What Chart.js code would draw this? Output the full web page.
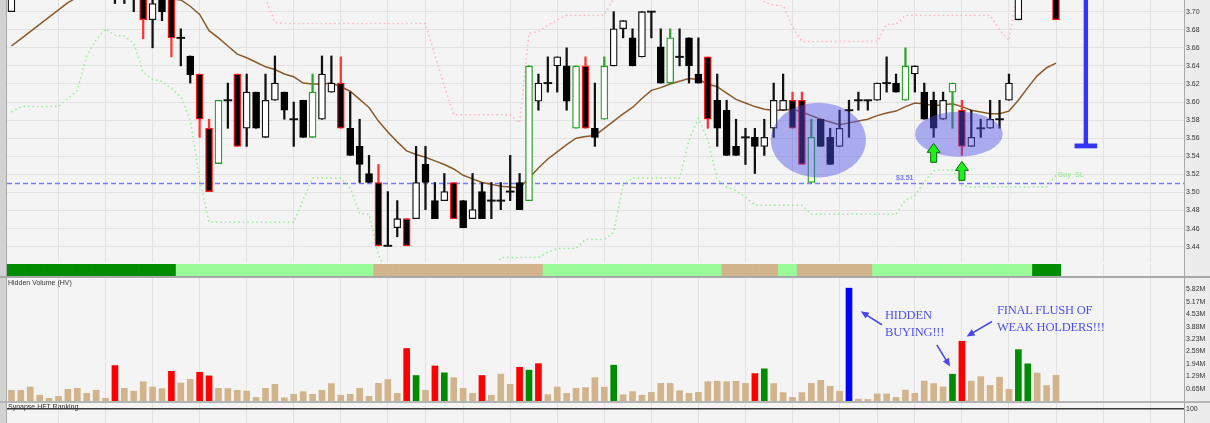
<!DOCTYPE html>
<html>
<head>
<meta charset="utf-8">
<script src="https://cdn.jsdelivr.net/npm/chart.js@4.4.1/dist/chart.umd.min.js"></script>
<style>
  html, body { margin: 0; padding: 0; background: #ececec; }
  #quadro { position: relative; width: 1210px; height: 423px; overflow: hidden; background: #ececec; }
  #quadro canvas { position: absolute; left: 0; }
  .sep { position: absolute; left: 0; width: 1210px; background: #a9a9a9; }
  .rotulo { position: absolute; left: 8px; font: 7px 'Liberation Sans', Arial, sans-serif; color: #333; white-space: nowrap; }
  .nota { position: absolute; font: 12.5px 'Liberation Serif', 'Times New Roman', serif; color: #4f4ff0; line-height: 16.7px; letter-spacing: -0.2px; white-space: nowrap; }
  .mini { position: absolute; font: bold 7px 'Liberation Sans', Arial, sans-serif; white-space: nowrap; }
</style>
</head>
<body>
<div id="quadro">
  <canvas id="preco" width="1210" height="264" style="top:0px"></canvas>
  <canvas id="faixa" width="1210" height="12" style="top:264px"></canvas>
  <div class="sep" style="top:276px;height:2px"></div>
  <canvas id="volume" width="1210" height="123" style="top:278px"></canvas>
  <div class="sep" style="top:401px;height:2px;background:#b4b4b4"></div>
  <canvas id="ranking" width="1210" height="20" style="top:403px"></canvas>

  <div class="rotulo" style="top:279px">Hidden Volume (HV)</div>
  <div class="rotulo" style="top:403px">Synapse HFT Ranking</div>
  <div class="mini" style="left:896px;top:174px;color:#7b7bf5">$3.51</div>
  <div class="mini" style="left:1058px;top:171px;color:#a6eea6">Buy_SL</div>
  <div class="nota" style="left:885px;top:307px">HIDDEN<br>BUYING!!!</div>
  <div class="nota" style="left:997px;top:302px">FINAL FLUSH OF<br>WEAK HOLDERS!!!</div>
</div>

<script>
// candles (one per session)
const opens = [
  3.700,3.725,3.745,3.760,3.750,3.770,3.760,3.750,3.740,3.755,
  3.740,3.730,3.720,3.730,3.725,3.691,3.720,3.725,3.671,3.651,
  3.631,3.571,3.532,3.602,3.631,3.571,3.611,3.561,3.602,3.611,
  3.581,3.602,3.561,3.581,3.611,3.621,3.571,3.551,3.521,3.511,
  3.441,3.461,3.471,3.471,3.531,3.491,3.491,3.511,3.491,3.471,
  3.501,3.491,3.491,3.501,3.511,3.491,3.601,3.621,3.640,3.640,
  3.571,3.640,3.571,3.581,3.640,3.681,3.671,3.650,3.700,3.661,
  3.621,3.650,3.671,3.631,3.650,3.602,3.591,3.551,3.561,3.561,
  3.551,3.571,3.591,3.602,3.602,3.511,3.581,3.561,3.551,3.591,
  3.602,3.602,3.602,3.621,3.621,3.602,3.631,3.611,3.602,3.581,
  3.611,3.591,3.551,3.571,3.571,3.581,3.602,3.691,3.720,3.750,
  3.770,3.750
];
const highs = [
  3.735,3.750,3.770,3.780,3.775,3.790,3.780,3.765,3.760,3.770,
  3.750,3.745,3.740,3.745,3.735,3.720,3.730,3.730,3.681,3.651,
  3.631,3.581,3.602,3.621,3.631,3.631,3.611,3.631,3.651,3.611,
  3.600,3.602,3.631,3.651,3.651,3.650,3.611,3.581,3.541,3.531,
  3.501,3.491,3.471,3.551,3.551,3.511,3.521,3.511,3.491,3.521,
  3.511,3.511,3.511,3.541,3.521,3.640,3.631,3.650,3.650,3.660,
  3.640,3.650,3.621,3.650,3.700,3.690,3.681,3.700,3.700,3.681,
  3.681,3.681,3.671,3.671,3.650,3.631,3.602,3.581,3.571,3.571,
  3.581,3.621,3.631,3.611,3.611,3.581,3.581,3.571,3.591,3.602,
  3.611,3.602,3.621,3.650,3.631,3.660,3.640,3.621,3.611,3.611,
  3.621,3.602,3.591,3.581,3.602,3.602,3.631,3.730,3.760,3.780,
  3.790,3.760
];
const lows = [
  3.700,3.720,3.735,3.745,3.740,3.755,3.745,3.730,3.728,3.735,
  3.720,3.709,3.709,3.700,3.670,3.660,3.690,3.650,3.640,3.621,
  3.561,3.501,3.532,3.571,3.551,3.551,3.571,3.561,3.602,3.581,
  3.551,3.561,3.561,3.581,3.611,3.571,3.541,3.511,3.511,3.441,
  3.441,3.451,3.441,3.471,3.481,3.471,3.491,3.471,3.461,3.471,
  3.471,3.471,3.481,3.491,3.481,3.491,3.591,3.611,3.611,3.591,
  3.571,3.571,3.551,3.581,3.640,3.671,3.640,3.650,3.671,3.621,
  3.621,3.640,3.621,3.621,3.571,3.551,3.541,3.541,3.531,3.521,
  3.541,3.561,3.591,3.571,3.531,3.511,3.551,3.531,3.551,3.561,
  3.591,3.591,3.602,3.611,3.611,3.602,3.611,3.581,3.561,3.581,
  3.571,3.541,3.551,3.561,3.571,3.571,3.602,3.691,3.715,3.740,
  3.740,3.691
];
const closes = [
  3.725,3.745,3.760,3.750,3.770,3.760,3.750,3.740,3.755,3.740,
  3.730,3.720,3.730,3.725,3.691,3.709,3.700,3.671,3.671,3.630,
  3.581,3.501,3.602,3.602,3.551,3.611,3.571,3.602,3.621,3.591,
  3.581,3.561,3.611,3.631,3.621,3.571,3.541,3.531,3.511,3.441,
  3.441,3.471,3.441,3.511,3.511,3.471,3.501,3.471,3.461,3.481,
  3.471,3.491,3.491,3.501,3.481,3.640,3.621,3.621,3.650,3.601,
  3.640,3.571,3.561,3.640,3.681,3.690,3.640,3.700,3.700,3.621,
  3.671,3.650,3.640,3.621,3.581,3.571,3.541,3.541,3.561,3.551,
  3.561,3.602,3.602,3.571,3.531,3.561,3.551,3.531,3.571,3.591,
  3.602,3.602,3.621,3.621,3.611,3.640,3.640,3.581,3.571,3.602,
  3.621,3.551,3.561,3.571,3.581,3.581,3.621,3.720,3.750,3.770,
  3.750,3.691
];
// candles outlined in red / green
const redEdge = [14,17,20,21,24,35,39,42,47,61,74,83,84,101,111];
const greenEdge = [22,32,55,60,63,70,85,95,100];

// brown moving average
const ma = [
  3.662,3.670,3.678,3.686,3.694,3.702,3.710,3.716,3.720,3.723,
  3.725,3.726,3.725,3.724,3.722,3.720,3.717,3.714,3.713,3.706,
  3.697,3.679,3.671,3.662,3.653,3.649,3.644,3.639,3.636,3.631,
  3.628,3.621,3.620,3.620,3.621,3.617,3.612,3.603,3.594,3.579,
  3.567,3.556,3.546,3.542,3.539,3.535,3.531,3.526,3.519,3.515,
  3.511,3.509,3.507,3.506,3.505,3.516,3.527,3.537,3.545,3.553,
  3.560,3.562,3.563,3.571,3.579,3.587,3.594,3.604,3.613,3.616,
  3.620,3.623,3.626,3.625,3.620,3.617,3.610,3.603,3.599,3.595,
  3.592,3.591,3.591,3.592,3.589,3.585,3.581,3.578,3.575,3.577,
  3.579,3.581,3.585,3.588,3.590,3.595,3.599,3.598,3.596,3.597,
  3.598,3.595,3.591,3.589,3.587,3.587,3.590,3.602,3.616,3.629,
  3.638,3.643
];
// pink dotted stop (upper)
const upperStop = [
  null,null,null,null,null,null,null,null,null,null,
  null,null,null,null,null,null,null,null,null,null,
  null,null,null,null,null,null,null,3.715,3.688,3.687,
  3.687,3.687,3.687,3.687,3.687,3.687,3.687,3.687,3.687,3.687,
  3.687,3.687,3.687,3.687,3.687,3.652,3.618,3.586,3.586,3.586,
  3.586,3.586,3.586,3.586,3.577,3.676,3.678,3.685,3.691,3.696,
  3.696,3.696,3.696,3.696,3.715,3.730,3.730,3.730,3.730,3.730,
  3.730,3.730,3.730,3.730,3.730,3.730,3.730,3.730,3.730,3.730,
  3.711,3.707,3.707,3.683,3.667,3.667,3.667,3.667,3.667,3.667,
  3.667,3.667,3.667,3.686,3.686,3.696,3.696,3.696,3.696,3.696,
  3.696,3.696,3.696,3.696,3.696,3.680,3.668,3.730,3.730,3.730,
  3.730,3.730
];
// light green dotted stop (lower)
const lowerStop = [
  3.589,3.595,3.595,3.595,3.595,3.595,3.604,3.613,3.651,3.669,
  3.681,3.674,3.673,3.665,3.633,3.625,3.623,3.615,3.606,3.580,
  3.514,3.467,3.467,3.467,3.467,3.467,3.467,3.467,3.467,3.467,
  3.467,3.492,3.516,3.516,3.516,3.516,3.505,3.477,3.476,3.431,
  3.410,3.410,3.410,3.410,3.410,3.410,3.410,3.410,3.410,3.410,
  3.410,3.410,3.428,3.428,3.428,3.428,3.428,3.434,3.438,3.438,
  3.438,3.448,3.448,3.448,3.456,3.508,3.516,3.516,3.516,3.516,
  3.516,3.516,3.558,3.582,3.558,3.514,3.506,3.502,3.495,3.486,
  3.486,3.486,3.486,3.486,3.486,3.476,3.476,3.476,3.476,3.476,
  3.476,3.476,3.476,3.476,3.476,3.492,3.496,3.512,3.524,3.525,
  3.525,3.508,3.506,3.506,3.506,3.506,3.506,3.506,3.506,3.506,
  3.506,3.519
];

// hidden volume, millions
const volumes = [
  0.56,0.56,0.73,0.30,0.14,0.24,0.61,0.66,0.40,0.56,
  0.14,1.85,0.66,0.51,1.01,0.73,0.65,1.55,0.94,1.13,
  1.50,1.31,0.66,0.65,0.56,0.52,0.19,0.66,0.87,0.17,
  0.35,0.49,0.35,0.56,0.91,0.30,0.35,0.66,0.24,0.92,
  1.12,0.40,2.74,1.33,0.56,1.83,1.47,1.22,0.66,0.40,
  1.33,0.30,1.40,0.87,1.76,1.61,1.95,0.33,0.73,0.40,
  0.66,0.70,1.22,0.72,1.87,0.33,0.49,0.30,0.45,0.92,
  0.92,0.54,0.40,0.45,1.01,1.03,1.01,1.03,0.92,1.43,
  1.68,0.91,0.44,0.19,0.44,0.92,1.08,0.77,0.51,5.89,
  0.10,0.08,0.37,0.37,0.19,0.57,0.40,1.04,0.91,0.73,
  1.40,3.12,1.04,1.27,0.81,1.24,0.61,2.68,1.94,1.46,
  0.81,1.34
];
const redVol = [11,17,20,21,42,45,50,54,56,79,101];
const greenVol = [43,46,55,64,80,100,107,108];
const blueVol = [89];

// trend band under the price panel: [candles, colour key]
const bandRuns = [[18,'dg'],[21,'lg'],[18,'tan'],[19,'lg'],[6,'tan'],[2,'lg'],[8,'tan'],[17,'lg'],[3,'dg']];

// axes
const priceTicks = [3.44,3.46,3.48,3.50,3.52,3.54,3.56,3.58,3.60,3.62,3.64,3.66,3.68,3.70];
const volTicks = [0.6467,1.2933,1.94,2.5867,3.2333,3.88,4.5267,5.1733,5.82];
const rankTicks = [100];
const gridDays = [5,10,15,20,25,30,35,40,44,48,53,58,63,68,73,78,83,88,92,96,101,106,111,116,121];
const xMin = -0.47, xMax = 124.6;
const priceMin = 3.4231, priceMax = 3.7129;
const volMax = 6.42;
const rankMax = 142.9;

// annotations
const supportLevel = 3.51;
const ellipses = [
  { dia: 85.75, preco: 3.558, rDia: 5.05, rPreco: 0.0413 },
  { dia: 100.68, preco: 3.5645, rDia: 4.65, rPreco: 0.0249 }
];
const arrowDays = [98, 101];
const alvo = { dia: 114.17, preco: 3.5515, meiaBarra: 1.2 };
const volArrows = [
  { de: [92.5, 3.98], para: [90.25, 4.68] },
  { de: [98.33, 2.93], para: [99.74, 1.80] },
  { de: [104.2, 4.15], para: [101.5, 3.37] }
];

const cores = { dg: '#008c00', lg: '#98fb98', tan: '#d2b48c' };
const dias = opens.map((_, i) => i);

const fundo = {
  id: 'fundo',
  beforeDraw(chart) {
    const { ctx, chartArea: a, width, height } = chart;
    ctx.save();
    ctx.fillStyle = '#ececec';
    ctx.fillRect(0, 0, width, height);
    ctx.fillStyle = '#f4f4f4';
    ctx.fillRect(a.left, 0, a.right - a.left, height);
    ctx.fillStyle = '#d2d2d2';
    ctx.fillRect(0, 0, 6, height);
    ctx.fillStyle = '#a8a8a8';
    ctx.fillRect(6, 0, 1, height);
    ctx.fillRect(a.right, 0, 1, height);
    ctx.restore();
  }
};

function eixoX(){
  return {
    type: 'linear', min: xMin, max: xMax, offset: false,
    grid: { color: '#e2e2e2', drawTicks: false, offset: false },
    border: { display: false },
    ticks: { display: false },
    afterBuildTicks: s => { s.ticks = gridDays.map(v => ({ value: v })); },
    afterFit: s => { s.height = 0; }
  };
}

function eixoY(min, max, ticks, fmt, grid){
  return {
    position: 'right', min: min, max: max,
    grid: Object.assign({ drawTicks: false }, grid),
    border: { display: false },
    ticks: { autoSkip: false, padding: 2, color: '#333', font: { size: 7, family: 'Liberation Sans' }, callback: fmt },
    afterBuildTicks: s => { s.ticks = ticks.map(v => ({ value: v })); },
    afterFit: s => { s.width = 26; s.paddingTop = 0; s.paddingBottom = 0; }
  };
}

function base(){
  return {
    responsive: false, animation: false, devicePixelRatio: 1,
    plugins: { legend: { display: false }, tooltip: { enabled: false } }
  };
}

// ---- price panel
function tipo(i){
  if(redEdge.includes(i)) return 'r';
  if(greenEdge.includes(i)) return 'g';
  return closes[i] >= opens[i] ? 'up' : 'dn';
}
const pavio = { r: '#ff3333', g: '#2aa52a', up: '#111', dn: '#111' };
const borda = { r: '#ff1a1a', g: '#22a022', up: '#111', dn: '#000' };
const miolo = { r: '#000', g: '#fff', up: '#fff', dn: '#000' };

const wicks = dias.map(i => ({ x: i, y: [lows[i], highs[i]], cor: pavio[tipo(i)] }));
const bodies = dias.filter(i => opens[i] !== closes[i])
  .map(i => ({ x: i, y: [opens[i], closes[i]], fill: miolo[tipo(i)], edge: borda[tipo(i)] }));
const dashes = dias.filter(i => opens[i] === closes[i])
  .map(i => ({ x: i, y: [closes[i] - 0.0007, closes[i] + 0.0007] }));

const anotacoes = {
  id: 'anotacoes',
  beforeDatasetsDraw(chart){
    const { ctx, scales: { y }, chartArea: a } = chart;
    const ys = y.getPixelForValue(supportLevel);
    ctx.save();
    ctx.strokeStyle = '#7a7aff';
    ctx.lineWidth = 1.5;
    ctx.setLineDash([5, 3]);
    ctx.beginPath();
    ctx.moveTo(a.left, ys);
    ctx.lineTo(a.right, ys);
    ctx.stroke();
    ctx.restore();
  },
  afterDatasetsDraw(chart){
    const { ctx, scales: { x, y }, chartArea: a } = chart;
    ctx.save();

    // blue ellipses
    ctx.fillStyle = 'rgba(80,80,230,0.45)';
    ellipses.forEach(e => {
      const cx = x.getPixelForValue(e.dia), cy = y.getPixelForValue(e.preco);
      const rx = x.getPixelForValue(e.dia + e.rDia) - cx;
      const ry = y.getPixelForValue(e.preco - e.rPreco) - cy;
      ctx.beginPath();
      ctx.ellipse(cx, cy, rx, ry, 0, 0, Math.PI * 2);
      ctx.fill();
    });

    // green arrows below the lows
    arrowDays.forEach(i => {
      const cx = x.getPixelForValue(i), t = y.getPixelForValue(lows[i]) + 6;
      ctx.beginPath();
      ctx.moveTo(cx, t);
      ctx.lineTo(cx + 6.5, t + 9);
      ctx.lineTo(cx + 3, t + 9);
      ctx.lineTo(cx + 3, t + 19);
      ctx.lineTo(cx - 3, t + 19);
      ctx.lineTo(cx - 3, t + 9);
      ctx.lineTo(cx - 6.5, t + 9);
      ctx.closePath();
      ctx.fillStyle = '#1ef01e';
      ctx.fill();
      ctx.strokeStyle = '#0b6b0b';
      ctx.lineWidth = 1;
      ctx.stroke();
    });

    // target line
    const xa = x.getPixelForValue(alvo.dia), ya = y.getPixelForValue(alvo.preco);
    const x1 = x.getPixelForValue(alvo.dia - alvo.meiaBarra), x2 = x.getPixelForValue(alvo.dia + alvo.meiaBarra);
    ctx.fillStyle = '#3434ff';
    ctx.fillRect(xa - 2.2, a.top, 4.4, ya - a.top);
    ctx.fillRect(x1, ya - 2.4, x2 - x1, 4.8);
    ctx.restore();
  }
};

new Chart(document.getElementById('preco'), {
  type: 'bar',
  data: {
    datasets: [
      { type: 'line', data: dias.map(i => ({ x: i, y: upperStop[i] })), borderColor: '#ffb3bd', borderWidth: 1.5, borderDash: [1.5, 3], pointRadius: 0, order: 8 },
      { type: 'line', data: dias.map(i => ({ x: i, y: lowerStop[i] })), borderColor: '#90ee90', borderWidth: 1.5, borderDash: [1.5, 3], pointRadius: 0, order: 8 },
      { type: 'line', data: dias.map(i => ({ x: i, y: ma[i] })), borderColor: '#8b5a2b', borderWidth: 1.5, pointRadius: 0, order: 6 },
      { data: wicks, backgroundColor: c => c.raw.cor, barThickness: 1.6, grouped: false, order: 5 },
      { data: bodies, backgroundColor: c => c.raw.fill, borderColor: c => c.raw.edge, borderWidth: 1.3, borderSkipped: false, barThickness: 7, grouped: false, order: 4 },
      { data: dashes, backgroundColor: '#111', barThickness: 8, grouped: false, order: 3 }
    ]
  },
  options: Object.assign(base(), {
    layout: { padding: { left: 7, right: 0, top: 0, bottom: 2 } },
    scales: {
      x: eixoX(),
      y: eixoY(priceMin, priceMax, priceTicks, v => v.toFixed(2), { color: '#e2e2e2' })
    }
  }),
  plugins: [fundo, anotacoes]
});

// ---- trend band
const bandKeys = [];
bandRuns.forEach(r => { for(let k = 0; k < r[0]; k++) bandKeys.push(r[1]); });

new Chart(document.getElementById('faixa'), {
  type: 'bar',
  data: {
    datasets: [{
      data: dias.map(i => ({ x: i, y: [0, 1] })),
      backgroundColor: dias.map(i => cores[bandKeys[i]]),
      barPercentage: 1, categoryPercentage: 1, grouped: false
    }]
  },
  options: Object.assign(base(), {
    layout: { padding: { left: 7, right: 26, top: 0, bottom: 0 } },
    scales: { x: eixoX(), y: { display: false, min: 0, max: 1 } }
  }),
  plugins: [fundo]
});

// ---- hidden volume
function corVol(i){
  if(blueVol.includes(i)) return '#0000ff';
  if(redVol.includes(i)) return '#ff0000';
  if(greenVol.includes(i)) return '#008c00';
  return '#d2b48c';
}

const setas = {
  id: 'setas',
  afterDatasetsDraw(chart){
    const { ctx, scales: { x, y } } = chart;
    ctx.save();
    ctx.strokeStyle = '#4848ee';
    ctx.fillStyle = '#4848ee';
    ctx.lineWidth = 1.5;
    volArrows.forEach(s => {
      const x0 = x.getPixelForValue(s.de[0]), y0 = y.getPixelForValue(s.de[1]);
      const x1 = x.getPixelForValue(s.para[0]), y1 = y.getPixelForValue(s.para[1]);
      const ang = Math.atan2(y1 - y0, x1 - x0);
      ctx.beginPath();
      ctx.moveTo(x0, y0);
      ctx.lineTo(x1 - 5 * Math.cos(ang), y1 - 5 * Math.sin(ang));
      ctx.stroke();
      ctx.beginPath();
      ctx.moveTo(x1, y1);
      ctx.lineTo(x1 - 8 * Math.cos(ang) + 3.5 * Math.sin(ang), y1 - 8 * Math.sin(ang) - 3.5 * Math.cos(ang));
      ctx.lineTo(x1 - 8 * Math.cos(ang) - 3.5 * Math.sin(ang), y1 - 8 * Math.sin(ang) + 3.5 * Math.cos(ang));
      ctx.closePath();
      ctx.fill();
    });
    ctx.restore();
  }
};

new Chart(document.getElementById('volume'), {
  type: 'bar',
  data: {
    datasets: [{
      data: dias.map(i => ({ x: i, y: volumes[i] })),
      backgroundColor: dias.map(corVol),
      barThickness: 6, grouped: false
    }]
  },
  options: Object.assign(base(), {
    layout: { padding: { left: 7, right: 0, top: 0, bottom: 0 } },
    scales: {
      x: eixoX(),
      y: eixoY(0, volMax, volTicks, v => v.toFixed(2) + 'M', { display: false })
    }
  }),
  plugins: [fundo, setas]
});

// ---- ranking strip
new Chart(document.getElementById('ranking'), {
  type: 'line',
  data: { datasets: [{ data: [] }] },
  options: Object.assign(base(), {
    layout: { padding: { left: 7, right: 0, top: 0, bottom: 0 } },
    scales: {
      x: eixoX(),
      y: eixoY(0, rankMax, rankTicks, v => String(v), { color: '#3a3a3a', lineWidth: 1.5 })
    }
  }),
  plugins: [fundo]
});
</script>
</body>
</html>
